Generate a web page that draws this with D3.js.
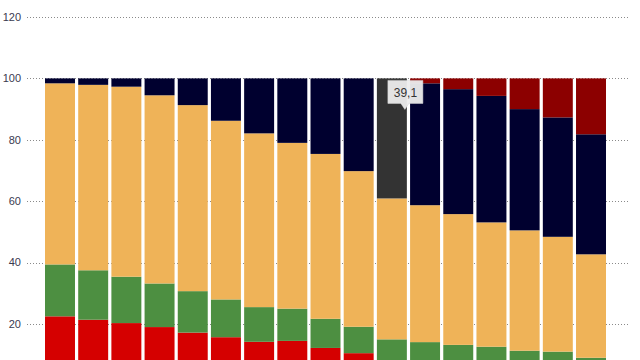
<!DOCTYPE html>
<html><head><meta charset="utf-8">
<script src="https://cdn.jsdelivr.net/npm/d3@7"></script>
<style>html,body{margin:0;padding:0;background:#fff;}svg{display:block;}</style>
</head><body>
<svg id="c" width="640" height="360"></svg>
<script>
const categories = ["1","2","3","4","5","6","7","8","9","10","11","12","13","14","15","16","17"];
const seriesNames = ["Rot","Grün","Orange","Dunkelblau","Dunkelrot"];
const rot        = [22.5,21.4,20.3,19.0,17.2,15.7,14.2,14.5,12.2,10.5,7.5,7.0,6.5,6.0,5.5,5.0,4.5];
const gruen      = [16.9,16.1,15.1,14.2,13.5,12.3,11.3,10.5,9.5,8.6,7.5,7.1,6.7,6.6,5.8,6.0,4.5];
const orange     = [59.0,60.4,61.9,61.3,60.6,58.2,56.6,54.0,53.7,50.7,45.9,44.6,42.6,40.5,39.2,37.4,33.7];
const dunkelblau = [1.6,2.1,2.7,5.5,8.7,13.8,17.9,21.0,24.6,30.2,39.1,39.7,40.7,41.2,39.5,38.9,39.1];
const dunkelrot  = [0,0,0,0,0,0,0,0,0,0,0,1.6,3.5,5.7,10.0,12.7,18.2];
const yTicks = [20,40,60,80,100,120];
const colors = ["#d50000","#4d8f41","#efb358","#00002f","#8c0000"];
const hoverIndex = 10, hoverSeries = 3, hoverLabel = "39,1";

const svg = d3.select("#c");
const y = d3.scaleLinear().domain([0,120]).range([385.4,17]);
const x = d3.scaleBand().domain(categories).range([43.4,607.6]).paddingInner(0.097).paddingOuter(0.0485);

// grid
svg.append("g").selectAll("line").data(yTicks).join("line")
  .attr("x1",27).attr("x2",628)
  .attr("y1",d=>Math.round(y(d))+0.5).attr("y2",d=>Math.round(y(d))+0.5)
  .attr("stroke","#8a8a8a").attr("stroke-width",1).attr("stroke-dasharray","1,2");
// labels
svg.append("g").selectAll("text").data(yTicks).join("text")
  .attr("x",21).attr("y",d=>y(d)).attr("dy","0.35em")
  .attr("text-anchor","end").attr("font-family","Liberation Sans, Arial, sans-serif")
  .attr("font-size",11).attr("fill","#3a3a50").text(d=>d);

const rows = categories.map((c,i)=>({cat:c, s0:rot[i], s1:gruen[i], s2:orange[i], s3:dunkelblau[i], s4:dunkelrot[i]}));
const stack = d3.stack().keys(["s0","s1","s2","s3","s4"])(rows);

svg.append("g").selectAll("g").data(stack).join("g")
  .attr("fill",(d,i)=>colors[i])
  .each(function(layer, li){
    d3.select(this).selectAll("rect").data(layer).join("rect")
      .attr("x",d=>x(d.data.cat)).attr("width",x.bandwidth())
      .attr("y",d=>y(d[1])).attr("height",d=>Math.max(0,y(d[0])-y(d[1])))
      .attr("fill",(d,i)=> (li===hoverSeries && i===hoverIndex) ? "#333333" : null);
  });

// tooltip
const hb = x(categories[hoverIndex]);
const tx = hb + x.bandwidth()/2 + 13;
const tip = svg.append("g").attr("transform",`translate(${tx},${y(100)+2})`);
tip.append("path")
  .attr("d","M-17,0 H18 V23 H4 L0,29 L-4,23 H-17 Z")
  .attr("fill","#ededed").attr("fill-opacity",0.95).attr("stroke","#d8d8d8").attr("stroke-width",0.5);
tip.append("text").attr("x",0.5).attr("y",12).attr("dy","0.35em").attr("text-anchor","middle")
  .attr("font-family","Liberation Sans, Arial, sans-serif").attr("font-size",12).attr("fill","#333")
  .text(hoverLabel);
</script>
</body></html>
